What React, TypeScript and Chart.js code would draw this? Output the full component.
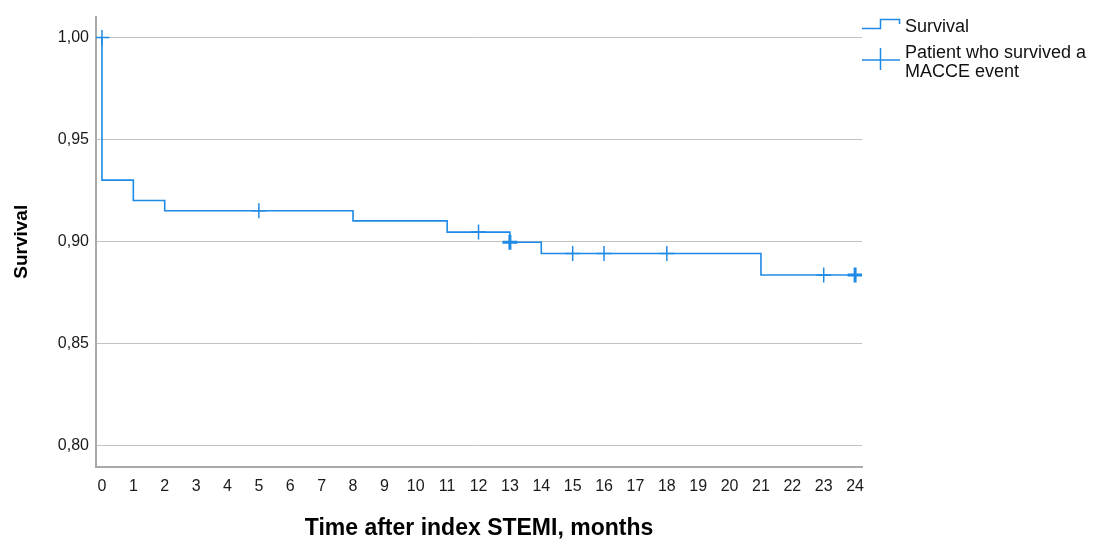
import React, { useEffect, useRef } from "react";
import { Chart, registerables } from "chart.js";

Chart.register(...registerables);

// Kaplan-Meier step curve (time in months, survival proportion)
const stepTimes = [0, 0, 1, 2, 8, 11, 13, 14, 21, 24];
const stepSurvival = [1.0, 0.93, 0.92, 0.915, 0.91, 0.9045, 0.8995, 0.894, 0.8835, 0.8835];

// Censored observations (patients who survived a MACCE event)
const censorTimes = [0, 5, 12, 13, 15, 16, 18, 23, 24];
const censorSurvival = [1.0, 0.915, 0.9045, 0.8995, 0.894, 0.894, 0.894, 0.8835, 0.8835];
const censorCounts = [1, 1, 1, 2, 1, 1, 1, 1, 2];

const yTickValues = [0.8, 0.85, 0.9, 0.95, 1.0];
const xTickValues = [0, 1, 2, 3, 4, 5, 6, 7, 8, 9, 10, 11, 12, 13, 14, 15, 16, 17, 18, 19, 20, 21, 22, 23, 24];

const legendSurvival = ["Survival"];
const legendCensor = ["Patient who survived a", "MACCE event"];

const BLUE = "#1f8ae6";
const FONT = "'Liberation Sans', Arial, sans-serif";

const legendPlugin = {
  id: "kmLegend",
  afterDraw(chart: any) {
    const ctx = chart.ctx;
    ctx.save();
    ctx.strokeStyle = BLUE;
    ctx.lineWidth = 1.5;
    // step icon
    ctx.beginPath();
    ctx.moveTo(862, 28.5);
    ctx.lineTo(880.5, 28.5);
    ctx.lineTo(880.5, 19.5);
    ctx.lineTo(899.5, 19.5);
    ctx.lineTo(899.5, 24);
    ctx.stroke();
    // cross icon
    ctx.beginPath();
    ctx.moveTo(862, 60);
    ctx.lineTo(900, 60);
    ctx.moveTo(880.5, 48);
    ctx.lineTo(880.5, 70);
    ctx.stroke();
    ctx.fillStyle = "#111";
    ctx.font = `18px ${FONT}`;
    ctx.textBaseline = "middle";
    ctx.textAlign = "left";
    legendSurvival.forEach((t, i) => ctx.fillText(t, 905, 27 + i * 19));
    legendCensor.forEach((t, i) => ctx.fillText(t, 905, 53 + i * 19));
    ctx.restore();
  },
};

export default function App() {
  const ref = useRef<HTMLCanvasElement | null>(null);

  useEffect(() => {
    if (!ref.current) return;
    const chart = new Chart(ref.current, {
      type: "line",
      data: {
        datasets: [
          {
            label: "Survival",
            data: stepTimes.map((t, i) => ({ x: t, y: stepSurvival[i] })),
            stepped: true,
            borderColor: BLUE,
            borderWidth: 1.6,
            pointRadius: 0,
            fill: false,
          } as any,
          {
            label: "Patient who survived a MACCE event",
            type: "scatter",
            data: censorTimes.map((t, i) => ({ x: t, y: censorSurvival[i] })),
            showLine: false,
            pointStyle: "cross",
            pointRadius: 7.5,
            pointHoverRadius: 7.5,
            borderColor: BLUE,
            pointBorderWidth: (c: any) => 1.5 * (censorCounts[c.dataIndex] || 1),
          } as any,
        ],
      },
      options: {
        animation: false,
        responsive: false,
        devicePixelRatio: 1,
        events: [],
        layout: { padding: { left: 0, right: 248, top: 14, bottom: 0 } },
        plugins: {
          legend: { display: false },
          tooltip: { enabled: false },
        },
        scales: {
          x: {
            type: "linear",
            min: -0.19,
            max: 24.22,
            afterFit: (s: any) => {
              s.height = 80;
            },
            afterBuildTicks: (s: any) => {
              s.ticks = xTickValues.map((v) => ({ value: v }));
            },
            grid: { display: true, color: "rgba(0,0,0,0)", drawTicks: false },
            border: { display: true, color: "#a9a9a9", width: 2 },
            ticks: {
              padding: 10,
              color: "#1a1a1a",
              font: { family: FONT, size: 16 },
              maxRotation: 0,
              autoSkip: false,
              callback: (v: any) => String(v),
            },
            title: {
              display: true,
              text: "Time after index STEMI, months",
              color: "#000",
              font: { family: FONT, size: 23, weight: "bold", lineHeight: 1.2 },
              padding: { top: 0, bottom: 5 },
            },
          },
          y: {
            type: "linear",
            min: 0.7893,
            max: 1.0102,
            afterFit: (s: any) => {
              s.width = 96;
            },
            afterBuildTicks: (s: any) => {
              s.ticks = yTickValues.map((v) => ({ value: v }));
            },
            grid: { color: "#c2c2c2", lineWidth: 1, drawTicks: false },
            border: { display: true, color: "#a9a9a9", width: 2 },
            ticks: {
              padding: 7,
              color: "#1a1a1a",
              font: { family: FONT, size: 16 },
              callback: (v: any) => Number(v).toFixed(2).replace(".", ","),
            },
            title: {
              display: true,
              text: "Survival",
              color: "#000",
              font: { family: FONT, size: 19, weight: "bold", lineHeight: 1.2 },
              padding: { top: 10, bottom: 0 },
            },
          },
        },
      },
      plugins: [legendPlugin],
    });
    return () => chart.destroy();
  }, []);

  return (
    <div style={{ position: "absolute", left: 0, top: 0, width: 1110, height: 547, background: "#fff" }}>
      <canvas ref={ref} width={1110} height={547} style={{ display: "block" }} />
    </div>
  );
}
